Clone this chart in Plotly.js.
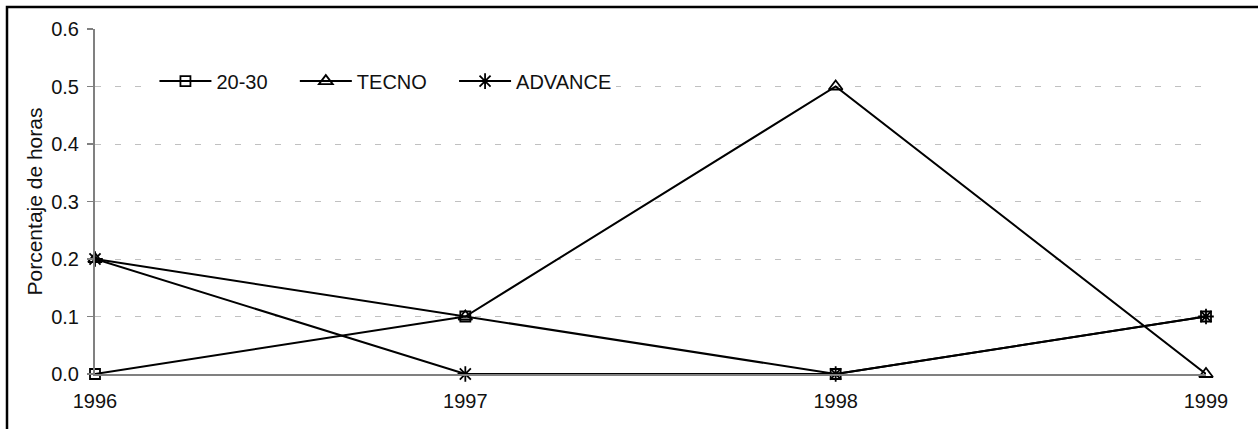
<!DOCTYPE html>
<html>
<head>
<meta charset="utf-8">
<script src="https://cdn.plot.ly/plotly-3.0.1.min.js"></script>
<style>
html,body{margin:0;padding:0;background:#fff;}
#chart{width:1258px;height:429px;}
</style>
</head>
<body>
<div id="chart"></div>
<script>
const years = [1996, 1997, 1998, 1999];
const serie2030 = [0, 0.1, 0, 0.1];
const serieTecno = [0.2, 0.1, 0.5, 0];
const serieAdvance = [0.2, 0, 0, 0.1];
const seriesNames = ['20-30', 'TECNO', 'ADVANCE'];
const yTicks = [0, 0.1, 0.2, 0.3, 0.4, 0.5, 0.6];
const yTickText = ['0.0', '0.1', '0.2', '0.3', '0.4', '0.5', '0.6'];

const FONT = 'Liberation Sans, Arial, sans-serif';
const PAD = '\u00a0\u00a0\u00a0\u00a0';

function tr(y, name, symbol, size) {
  return {
    x: years, y: y, name: name, type: 'scatter', mode: 'lines+markers',
    line: {color: '#000', width: 2},
    marker: {symbol: symbol, size: size, color: '#000', line: {color: '#000', width: 1.8}},
    cliponaxis: false
  };
}

const data = [
  tr(serie2030, seriesNames[0] + PAD, 'square-open', 10),
  tr(serieTecno, seriesNames[1] + PAD, 'triangle-up-open', 12),
  tr(serieAdvance, seriesNames[2], 'asterisk-open', 13)
];

const layout = {
  width: 1258, height: 429,
  margin: {l: 95, r: 52, t: 29, b: 55},
  paper_bgcolor: '#fff', plot_bgcolor: '#fff',
  font: {family: FONT, size: 20, color: '#111'},
  showlegend: true,
  legend: {
    orientation: 'h', x: 0.0535, xanchor: 'left', y: 0.849, yanchor: 'middle',
    bgcolor: '#fff', borderwidth: 0, itemwidth: 52,
    font: {family: FONT, size: 20, color: '#111'}
  },
  xaxis: {
    range: [1996, 1999], tickvals: years, ticktext: years.map(String),
    showgrid: false, zeroline: false, showline: true, linecolor: '#808080', linewidth: 2,
    ticks: '', ticklabelstandoff: 8,
    tickfont: {family: FONT, size: 20, color: '#111'}
  },
  yaxis: {
    range: [0, 0.6], tickvals: yTicks, ticktext: yTickText,
    showgrid: true, gridcolor: '#c0c0c0', gridwidth: 1, griddash: '6px,14px',
    zeroline: false, showline: true, linecolor: '#808080', linewidth: 2,
    ticks: 'outside', ticklen: 6, tickcolor: '#808080', tickwidth: 1.5,
    ticklabelstandoff: 4,
    tickfont: {family: FONT, size: 20, color: '#111'},
    title: {text: 'Porcentaje de horas', font: {family: FONT, size: 21, color: '#111'}}
  },
  shapes: [{
    type: 'rect', xref: 'paper', yref: 'paper',
    x0: (7 - 95) / 1111, x1: 1.2, y0: -0.5, y1: (374 - 7) / 345,
    line: {color: '#000', width: 2.5}, fillcolor: 'rgba(0,0,0,0)', layer: 'above'
  }]
};

Plotly.newPlot('chart', data, layout, {displayModeBar: false, staticPlot: true});
</script>
</body>
</html>
